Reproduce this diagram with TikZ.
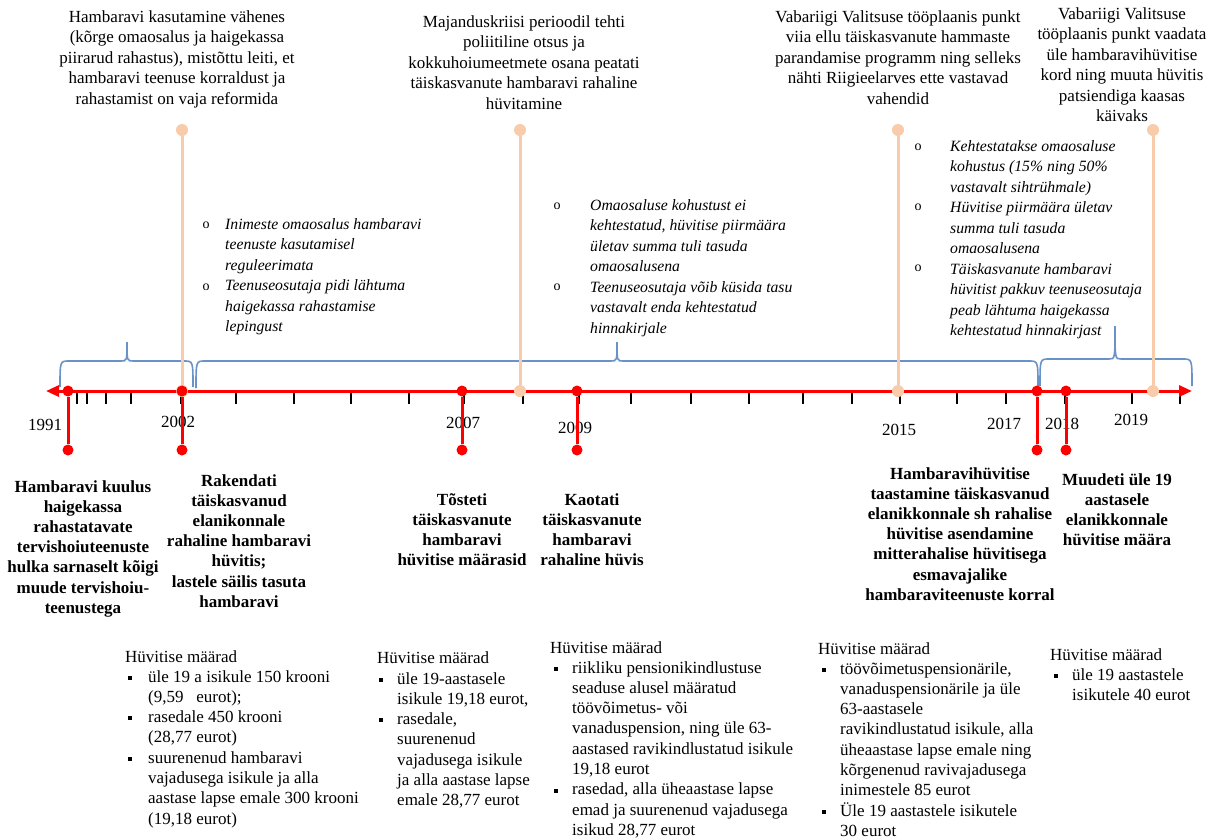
\documentclass[tikz,border=0pt]{standalone}
\usepackage{fontspec}
\setmainfont{Liberation Serif}
\usetikzlibrary{arrows.meta}
\definecolor{axisred}{RGB}{255,0,0}
\definecolor{peach}{RGB}{248,203,170}
\definecolor{braceblue}{RGB}{104,146,200}
\newcommand{\tlbrace}[6]{%
  \draw[bracestyle] (#1,#6) .. controls (#1,#4) .. (#1+9,#4) -- (#3-6,#4)
     .. controls (#3,#4) .. (#3,#5) .. controls (#3,#4) .. (#3+6,#4)
     -- (#2-9,#4) .. controls (#2,#4) .. (#2,#6);}
\begin{document}
\begin{tikzpicture}[x=1pt,y=-1pt,
  toptext/.style={align=center, anchor=north, inner sep=0pt, font=\fontsize{17}{20.5}\selectfont},
  boldtext/.style={align=center, anchor=north, inner sep=0pt, font=\fontsize{17}{20.2}\selectfont\bfseries},
  itlist/.style={align=left, anchor=north west, inner sep=0pt, font=\fontsize{15.7}{20.5}\selectfont\itshape},
  omark/.style={inner sep=0pt, font=\fontsize{14}{14}\selectfont},
  ratelist/.style={align=left, anchor=north west, inner sep=0pt, font=\fontsize{17}{20.3}\selectfont},
  rathead/.style={anchor=north west, inner sep=0pt, font=\fontsize{17}{20.3}\selectfont},
  sqbullet/.style={fill=black, minimum size=4pt, inner sep=0pt},
  yearlabel/.style={inner sep=0pt, font=\fontsize{17}{17}\selectfont},
  bracestyle/.style={draw=braceblue, line width=1.6pt},
  tickmark/.style={draw=black, line width=2.6pt},
  redstem/.style={draw=axisred, line width=3pt},
  peachstem/.style={draw=peach, line width=3pt},
  reddot/.style={circle, fill=axisred, inner sep=0pt, minimum size=11pt},
  peachdot/.style={circle, fill=peach, inner sep=0pt, minimum size=12pt},
]
\useasboundingbox (0,0) rectangle (1212,839);

% ---- top texts ----
\node[toptext] (t1) at (177,10) {Hambaravi kasutamine vähenes\\(kõrge omaosalus ja haigekassa\\piirarud rahastus), mistõttu leiti, et\\hambaravi teenuse korraldust ja\\rahastamist on vaja reformida};
\node[toptext] (t2) at (524,15) {Majanduskriisi perioodil tehti\\poliitiline otsus ja\\kokkuhoiumeetmete osana peatati\\täiskasvanute hambaravi rahaline\\hüvitamine};
\node[toptext] (t3) at (898,10) {Vabariigi Valitsuse tööplaanis punkt\\viia ellu täiskasvanute hammaste\\parandamise programm ning selleks\\nähti Riigieelarves ette vastavad\\vahendid};
\node[toptext] (t4) at (1122,7) {Vabariigi Valitsuse\\tööplaanis punkt vaadata\\üle hambaravihüvitise\\kord ning muuta hüvitis\\patsiendiga kaasas\\käivaks};

% ---- italic bullet lists ----
\node[itlist] (l1) at (225,218) {Inimeste omaosalus hambaravi\\teenuste kasutamisel\\reguleerimata\\Teenuseosutaja pidi lähtuma\\haigekassa rahastamise\\lepingust};
\node[omark] (l1a) at (206,225) {o};
\node[omark] (l1b) at (206,287) {o};
\node[itlist] (l2) at (590,199) {Omaosaluse kohustust ei\\kehtestatud, hüvitise piirmäära\\ületav summa tuli tasuda\\omaosalusena\\Teenuseosutaja võib küsida tasu\\vastavalt enda kehtestatud\\hinnakirjale};
\node[omark] (l2a) at (557,206) {o};
\node[omark] (l2b) at (557,287) {o};
\node[itlist] (l3) at (950,140) {Kehtestatakse omaosaluse\\kohustus (15\% ning 50\%\\vastavalt sihtrühmale)\\Hüvitise piirmäära ületav\\summa tuli tasuda\\omaosalusena\\Täiskasvanute hambaravi\\hüvitist pakkuv teenuseosutaja\\peab lähtuma haigekassa\\kehtestatud hinnakirjast};
\node[omark] (l3a) at (918,147) {o};
\node[omark] (l3b) at (918,207) {o};
\node[omark] (l3c) at (918,268) {o};

% ---- bold event texts ----
\node[boldtext] (b1) at (83,480) {Hambaravi kuulus\\haigekassa\\rahastatavate\\tervishoiuteenuste\\hulka sarnaselt kõigi\\muude tervishoiu-\\teenustega};
\node[boldtext] (b2) at (239,474) {Rakendati\\täiskasvanud\\elanikonnale\\rahaline hambaravi\\hüvitis;\\lastele säilis tasuta\\hambaravi};
\node[boldtext] (b3) at (462,493) {Tõsteti\\täiskasvanute\\hambaravi\\hüvitise määrasid};
\node[boldtext] (b4) at (592,493) {Kaotati\\täiskasvanute\\hambaravi\\rahaline hüvis};
\node[boldtext] (b5) at (960,467) {Hambaravihüvitise\\taastamine täiskasvanud\\elanikkonnale sh rahalise\\hüvitise asendamine\\mitterahalise hüvitisega\\esmavajalike\\hambaraviteenuste korral};
\node[boldtext] (b6) at (1117,473) {Muudeti üle 19\\aastasele\\elanikkonnale\\hüvitise määra};

% ---- rate lists ----
\node[rathead] (h1) at (125,650) {Hüvitise määrad};
\node[ratelist] (c1) at (148,670) {üle 19 a isikule 150 krooni\\(9,59\ \ \ eurot);\\rasedale 450 krooni\\(28,77 eurot)\\suurenenud hambaravi\\vajadusega isikule ja alla\\aastase lapse emale 300 krooni\\(19,18 eurot)};
\node[sqbullet] (c1a) at (130,678) {};
\node[sqbullet] (c1b) at (130,718) {};
\node[sqbullet] (c1c) at (130,759) {};

\node[rathead] (h2) at (377,651) {Hüvitise määrad};
\node[ratelist] (c2) at (397,672) {üle 19-aastasele\\isikule 19,18 eurot,\\rasedale,\\suurenenud\\vajadusega isikule\\ja alla aastase lapse\\emale 28,77 eurot};
\node[sqbullet] (c2a) at (381,680) {};
\node[sqbullet] (c2b) at (381,720) {};

\node[rathead] (h3) at (550,641) {Hüvitise määrad};
\node[ratelist] (c3) at (572,661) {riikliku pensionikindlustuse\\seaduse alusel määratud\\töövõimetus- või\\vanaduspension, ning üle 63-\\aastased ravikindlustatud isikule\\19,18 eurot\\rasedad, alla üheaastase lapse\\emad ja suurenenud vajadusega\\isikud 28,77 eurot};
\node[sqbullet] (c3a) at (556,669) {};
\node[sqbullet] (c3b) at (556,791) {};

\node[rathead] (h4) at (818,642) {Hüvitise määrad};
\node[ratelist] (c4) at (840,662) {töövõimetuspensionärile,\\vanaduspensionärile ja üle\\63-aastasele\\ravikindlustatud isikule, alla\\üheaastase lapse emale ning\\kõrgenenud ravivajadusega\\inimestele 85 eurot\\Üle 19 aastastele isikutele\\30 eurot};
\node[sqbullet] (c4a) at (824,670) {};
\node[sqbullet] (c4b) at (824,812) {};

\node[rathead] (h5) at (1050,648) {Hüvitise määrad};
\node[ratelist] (c5) at (1072,668) {üle 19 aastastele\\isikutele 40 eurot};
\node[sqbullet] (c5a) at (1056,676) {};

% ---- year labels ----
\node[yearlabel] (y1991) at (45,425) {1991};
\node[yearlabel] (y2002) at (178,422) {2002};
\node[yearlabel] (y2007) at (463,423) {2007};
\node[yearlabel] (y2009) at (575,428) {2009};
\node[yearlabel] (y2015) at (899,430) {2015};
\node[yearlabel] (y2017) at (1004,424) {2017};
\node[yearlabel] (y2018) at (1062,424) {2018};
\node[yearlabel] (y2019) at (1131,420) {2019};

% ---- braces ----
\tlbrace{60}{193}{127}{361}{342}{387}
\tlbrace{196}{1038}{617}{361}{342}{388}
\tlbrace{1040}{1192}{1115}{359}{326}{386}

% ---- ticks ----
\foreach \tx in {77,87,106,131,181,236,294,351,409,464,523,579,631,691,749,803,852,900,957,1006,1065,1132,1180}
  \draw[tickmark] (\tx,391) -- (\tx,404);

% ---- axis ----
\coordinate (axL) at (46,391);
\coordinate (axR) at (1192,391);
\draw[draw=axisred, line width=3pt, {Triangle[length=13pt,width=11pt]}-{Triangle[length=13pt,width=11pt]}] (axL) -- (axR);

% ---- peach markers ----
\foreach \px/\nm in {182/pa,520/pb,898/pc,1153/pd}{
  \node[peachdot] (\nm top) at (\px,130) {};
  \node[peachdot] (\nm bot) at (\px,391) {};
  \draw[peachstem] (\nm top) -- (\nm bot);
}

% ---- red event stems ----
\foreach \rx/\nm in {68/ra,182/rb,462/rc,577/rd,1037/re,1066/rf}{
  \node[reddot] (\nm top) at (\rx,391) {};
  \node[reddot] (\nm bot) at (\rx,450) {};
  \draw[redstem] (\nm top) -- (\nm bot);
}
\end{tikzpicture}
\end{document}
